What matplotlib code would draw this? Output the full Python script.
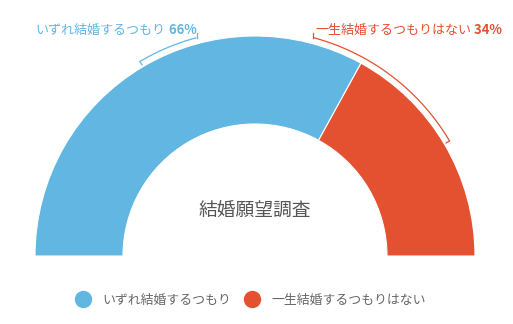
import numpy as np
import matplotlib
matplotlib.use("Agg")
import matplotlib.pyplot as plt
from matplotlib.lines import Line2D

categories = ["いずれ結婚するつもり", "一生結婚するつもりはない"]
values = [66, 34]
title = "結婚願望調査"
colors = ["#62B6E2", "#E35131"]

W, H = 513, 324
fig = plt.figure(figsize=(W / 100, H / 100), dpi=100)
ax = fig.add_axes([0, 0, 1, 1])
FAM = ["Noto Sans CJK JP", "DejaVu Sans"]
plt.rcParams["font.family"] = FAM

cx, cy = 255, H - 256
R, width = 220, 88
total = sum(values)
wedges, _ = ax.pie(values + [total], colors=colors + ["none"], startangle=180,
                   counterclock=False, radius=R, center=(cx, cy),
                   wedgeprops=dict(width=width, edgecolor="white", linewidth=0.8))
wedges[-1].set_visible(False)
ax.set_xlim(0, W)
ax.set_ylim(0, H)
ax.set_aspect("equal")
ax.axis("off")

ax.text(cx, H - 211, title, ha="center", va="center", fontsize=13.5, color="#555555")

# brackets
Rb = 226
label_angles = [105, 75]
start = 180.0
fig.canvas.draw()
renderer = fig.canvas.get_renderer()
for i, (cat, v) in enumerate(zip(categories, values)):
    span = v / total * 180
    mid = start - span / 2
    start -= span
    la = label_angles[i]
    th = np.radians(np.linspace(mid, la, 100))
    xs = cx + Rb * np.cos(th)
    ys = cy + Rb * np.sin(th)
    ax.plot(xs, ys, color=colors[i], lw=0.9, solid_capstyle="butt")
    m = np.radians(mid)
    ax.plot([cx + (Rb - 4) * np.cos(m), cx + Rb * np.cos(m)],
            [cy + (Rb - 4) * np.sin(m), cy + Rb * np.sin(m)], color=colors[i], lw=0.9)
    l = np.radians(la)
    ex, ey = cx + Rb * np.cos(l), cy + Rb * np.sin(l)
    ax.plot([ex, ex], [ey, H - 33], color=colors[i], lw=0.9)
    ty = H - 30
    pct = f" {v}%"
    if i == 0:
        tp = ax.text(ex, ty, pct, ha="right", va="center", fontsize=9.4,
                     color=colors[i], fontweight="bold")
        bb = tp.get_window_extent(renderer)
        x0 = ax.transData.inverted().transform((bb.x0, bb.y0))[0]
        ax.text(x0, ty, cat, ha="right", va="center", fontsize=9.4, color=colors[i])
    else:
        tn = ax.text(ex + 2, ty, cat, ha="left", va="center", fontsize=9.4, color=colors[i])
        bb = tn.get_window_extent(renderer)
        x1 = ax.transData.inverted().transform((bb.x1, bb.y0))[0]
        ax.text(x1, ty, pct, ha="left", va="center", fontsize=9.4,
                color=colors[i], fontweight="bold")

handles = [Line2D([], [], marker="o", linestyle="none", markersize=11.5,
                  markerfacecolor=c, markeredgecolor=c) for c in colors]
leg = fig.legend(handles, categories, loc="center", bbox_to_anchor=(250 / W, 1 - 300 / H),
                 ncol=2, frameon=False, fontsize=9.3, handlelength=1.3,
                 handletextpad=0.85, columnspacing=1.0)
for t in leg.get_texts():
    t.set_color("#666666")

fig.savefig("out.png", dpi=100)
